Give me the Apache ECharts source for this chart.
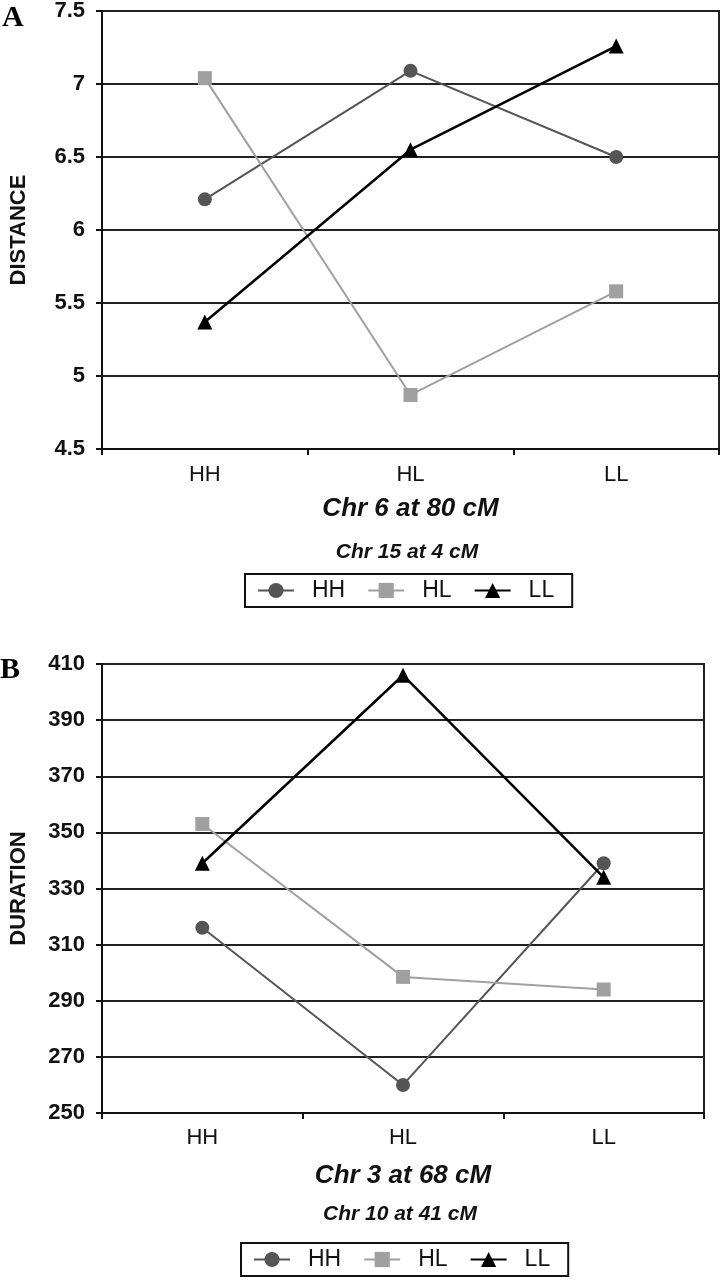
<!DOCTYPE html>
<html>
<head>
<meta charset="utf-8">
<script src="https://cdn.jsdelivr.net/npm/echarts@6/dist/echarts.min.js"></script>
<style>html,body{margin:0;padding:0;background:#fff}#c{width:721px;height:1280px}</style>
</head>
<body>
<div id="c"></div>
<script>
const categories = ['HH', 'HL', 'LL'];
const seriesNames = ['HH', 'HL', 'LL'];
// Panel A: DISTANCE
const distHH = [6.21, 7.09, 6.50];
const distHL = [7.04, 4.87, 5.58];
const distLL = [5.37, 6.55, 7.26];
// Panel B: DURATION
const durHH = [316, 260, 339];
const durHL = [353, 298.5, 294];
const durLL = [339, 406, 334];

const colors = {HH: '#555555', HL: '#a0a0a0', LL: '#000000'};
const symbols = {HH: 'circle', HL: 'rect', LL: 'triangle'};
const sizes = {HH: 14, HL: 14, LL: 15};

const chart = echarts.init(document.getElementById('c'), null, {renderer: 'canvas'});

function mkSeries(name, data, idx) {
  return {
    name: name, type: 'line', data: data,
    xAxisIndex: idx, yAxisIndex: idx,
    symbol: symbols[name], symbolSize: sizes[name],
    showAllSymbol: true,
    lineStyle: {color: colors[name], width: name === 'LL' ? 2.5 : 2},
    itemStyle: {color: colors[name]},
    emphasis: {disabled: true},
    animation: false
  };
}

const font = 'Liberation Sans, Arial, sans-serif';

function yAxis(idx, min, max, interval, name) {
  return {
    type: 'value', gridIndex: idx, min: min, max: max, interval: interval,
    name: name, nameLocation: 'middle', nameGap: 72, nameRotate: 90,
    nameTextStyle: {fontFamily: font, fontWeight: 'bold', fontSize: 22, color: '#111'},
    axisLine: {show: true, lineStyle: {color: '#111', width: 2}},
    axisTick: {show: true, inside: false, length: 6, lineStyle: {color: '#111', width: 2}},
    axisLabel: {fontFamily: font, fontWeight: 'bold', fontSize: 22, color: '#111', margin: 17},
    splitLine: {show: true, lineStyle: {color: '#222', width: 2}}
  };
}
function xAxis(idx, name, gap, margin) {
  return {
    type: 'category', gridIndex: idx, data: categories, boundaryGap: true,
    name: name, nameLocation: 'middle', nameGap: gap,
    nameTextStyle: {fontFamily: font, fontWeight: 'bold', fontStyle: 'italic', fontSize: 26, color: '#111'},
    axisLine: {show: true, lineStyle: {color: '#111', width: 2}},
    axisTick: {show: true, length: 6, lineStyle: {color: '#111', width: 2}},
    axisLabel: {fontFamily: font, fontSize: 22, color: '#111', margin: margin},
    splitLine: {show: false}
  };
}
function legend(left, top) {
  return {
    left: left, top: top, orient: 'horizontal',
    data: seriesNames,
    itemWidth: 36, itemHeight: 19, itemGap: 22,
    padding: [5, 18, 5, 12],
    borderColor: '#111', borderWidth: 2,
    textStyle: {fontFamily: font, fontSize: 23, color: '#111', padding: [0, 0, 0, 13]},
    selectedMode: false
  };
}

const option = {
  backgroundColor: '#fff',
  animation: false,
  title: [
    {text: 'A', left: 2, top: 3, textStyle: {fontFamily: 'Liberation Serif, serif', fontWeight: 'bold', fontSize: 30, color: '#000'}, padding: 0},
    {text: 'B', left: 0, top: 655, textStyle: {fontFamily: 'Liberation Serif, serif', fontWeight: 'bold', fontSize: 30, color: '#000'}, padding: 0},
    {text: 'Chr 15 at 4 cM', left: 407, top: 542, textAlign: 'center', padding: 0,
     textStyle: {fontFamily: font, fontWeight: 'bold', fontStyle: 'italic', fontSize: 21, color: '#111'}},
    {text: 'Chr 10 at 41 cM', left: 400, top: 1204, textAlign: 'center', padding: 0,
     textStyle: {fontFamily: font, fontWeight: 'bold', fontStyle: 'italic', fontSize: 21, color: '#111'}}
  ],
  legend: [legend(245, 574), legend(241, 1243)],
  grid: [
    {left: 95, top: 9, width: 624, height: 440, show: true, borderColor: '#222', borderWidth: 2, containLabel: false},
    {left: 95, top: 664, width: 609, height: 449, show: true, borderColor: '#222', borderWidth: 2, containLabel: false}
  ],
  xAxis: [xAxis(0, 'Chr 6 at 80 cM', 47, 15), xAxis(1, 'Chr 3 at 68 cM', 50, 14)],
  yAxis: [yAxis(0, 4.5, 7.5, 0.5, 'DISTANCE'), yAxis(1, 250, 410, 20, 'DURATION')],
  series: [
    mkSeries('HH', distHH, 0), mkSeries('HL', distHL, 0), mkSeries('LL', distLL, 0),
    mkSeries('HH', durHH, 1), mkSeries('HL', durHL, 1), mkSeries('LL', durLL, 1)
  ]
};
chart.setOption(option);
</script>
</body>
</html>
